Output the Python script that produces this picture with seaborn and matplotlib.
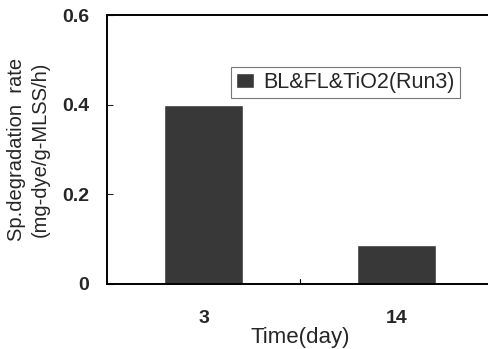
import matplotlib
matplotlib.use("Agg")
import matplotlib.pyplot as plt
import seaborn as sns
import pandas as pd

days = ["3", "14"]
rates = [0.40, 0.087]
series_name = "BL&FL&TiO2(Run3)"

df = pd.DataFrame({"day": days, "rate": rates, "run": series_name})

sns.set_style("white")
plt.rcParams['font.family'] = ['Liberation Sans', 'DejaVu Sans']

fig = plt.figure(figsize=(4.89, 3.49), dpi=100)
ax = fig.add_axes([107 / 489, 65 / 349, 386 / 489, 269 / 349])

sns.barplot(data=df, x="day", y="rate", hue="run", palette=["#383838"],
            width=0.41, ax=ax, saturation=1)

ax.set_xlim(-0.5, 1.5)
ax.set_ylim(0, 0.6)
ax.set_yticks([0, 0.2, 0.4, 0.6])
ax.set_yticklabels(["0", "0.2", "0.4", "0.6"], fontsize=14, fontweight="bold")
ax.set_xticks([0, 1])
ax.set_xticklabels(days, fontsize=14, fontweight="bold")
ax.tick_params(axis="x", length=0, pad=19)
ax.tick_params(axis="y", direction="in", length=4, width=0.8, left=True, pad=13)
ax.axvline(0.5, ymin=0, ymax=0.02, color="black", lw=0.8)

for s in ax.spines.values():
    s.set_color("black")
    s.set_linewidth(1.4)

ax.set_xlabel("Time(day)", fontsize=16, labelpad=0)
ax.set_ylabel("Sp.degradation  rate\n(mg-dye/g-MLSS/h)", fontsize=14.5, labelpad=9,
              linespacing=1.3)

leg = ax.legend(loc="upper left", bbox_to_anchor=(0.321, 0.808), fontsize=15.5,
                frameon=True, fancybox=False, edgecolor="#555555",
                handlelength=0.8, handleheight=0.7, handletextpad=0.45,
                borderpad=0.25, borderaxespad=0, title=None)
leg.get_frame().set_linewidth(0.8)

fig.savefig("out.png", dpi=100)
